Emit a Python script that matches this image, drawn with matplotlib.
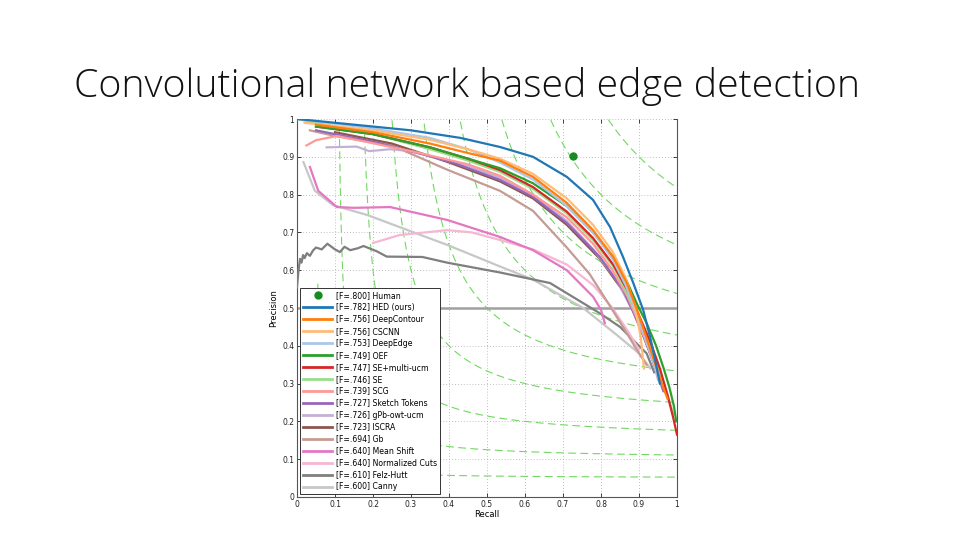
import matplotlib
matplotlib.use("Agg")
import matplotlib.pyplot as plt
import numpy as np

title = "Convolutional network based edge detection"

labels = ["[F=.800] Human", "[F=.782] HED (ours)", "[F=.756] DeepContour", "[F=.756] CSCNN",
          "[F=.753] DeepEdge", "[F=.749] OEF", "[F=.747] SE+multi-ucm", "[F=.746] SE",
          "[F=.739] SCG", "[F=.727] Sketch Tokens", "[F=.726] gPb-owt-ucm", "[F=.723] ISCRA",
          "[F=.694] Gb", "[F=.640] Mean Shift", "[F=.640] Normalized Cuts", "[F=.610] Felz-Hutt",
          "[F=.600] Canny"]

human_r = [0.726]
human_p = [0.902]

hed_r = [0, .1, .2, .3, .43, .534, .621, .71, .779, .824, .858, .885, .911, .93, .945, .955]
hed_p = [1, .99, .98, .97, .95, .926, .90, .847, .786, .714, .635, .566, .495, .42, .35, .30]
deepcontour_r = [.05, .2, .35, .45, .534, .621, .71, .779, .832, .868, .895, .92, .94, .96, .975]
deepcontour_p = [.985, .965, .935, .91, .89, .847, .778, .706, .635, .566, .495, .42, .36, .30, .26]
cscnn_r = [.02, .2, .35, .45, .534, .621, .71, .779, .83, .865, .89, .905, .913]
cscnn_p = [.99, .97, .945, .92, .895, .855, .79, .72, .65, .58, .50, .42, .34]
deepedge_r = [0, .2, .35, .45, .534, .621, .71, .779, .83, .865, .89, .92, .94, .955]
deepedge_p = [1, .975, .95, .92, .885, .84, .77, .70, .63, .56, .49, .41, .35, .30]
oef_r = [.05, .2, .35, .45, .534, .621, .71, .779, .832, .868, .895, .92, .945, .965, .98, .992, .998]
oef_p = [.98, .96, .925, .895, .87, .83, .77, .70, .635, .57, .51, .46, .40, .34, .29, .24, .20]
semucm_r = [.05, .2, .35, .45, .534, .621, .71, .779, .832, .868, .9, .93, .955, .975, .99, 1.0]
semucm_p = [.98, .96, .925, .895, .865, .82, .755, .685, .615, .55, .48, .41, .34, .27, .21, .165]
se_r = [0, .2, .35, .45, .534, .621, .71, .779, .832, .868, .9, .93, .955, .975, .99]
se_p = [1, .96, .92, .89, .86, .815, .75, .68, .61, .54, .47, .40, .33, .27, .22]
scg_r = [.025, .05, .105, .18, .3, .45, .534, .621, .71, .779, .83, .87, .9, .93, .96]
scg_p = [.93, .944, .955, .94, .915, .88, .85, .80, .74, .67, .60, .53, .46, .38, .30]
sketch_r = [.05, .2, .395, .534, .621, .71, .797, .858, .885, .91, .94, .964]
sketch_p = [.97, .94, .89, .839, .794, .725, .635, .548, .49, .43, .35, .28]
gpb_r = [.078, .157, .19, .245, .3, .45, .534, .621, .71, .78, .84, .885, .915, .94, .95]
gpb_p = [.925, .927, .915, .92, .915, .875, .845, .80, .73, .655, .575, .49, .42, .35, .31]
iscra_r = [.1, .25, .4, .534, .621, .71, .797, .858, .885, .91, .93, .95]
iscra_p = [.965, .935, .885, .835, .79, .72, .63, .545, .49, .43, .38, .34]
gb_r = [.034, .1, .25, .395, .534, .621, .71, .77, .83, .87, .9, .92]
gb_p = [.97, .955, .93, .866, .81, .757, .66, .59, .495, .43, .38, .35]
meanshift_r = [.034, .056, .105, .15, .245, .395, .534, .621, .71, .779, .80, .81]
meanshift_p = [.873, .81, .767, .765, .767, .733, .688, .653, .60, .53, .495, .46]
ncuts_r = [.2, .27, .395, .46, .534, .621, .71, .78, .83, .87, .9]
ncuts_p = [.672, .693, .706, .70, .68, .655, .615, .56, .50, .44, .39]
felz_r = [0, .004, .008, .012, .016, .02, .026, .034, .042, .05, .065, .08, .1, .113, .125, .14,
          .16, .175, .21, .236, .33, .395, .534, .666, .797, .85, .92, .94]
felz_p = [.555, .60, .63, .62, .64, .632, .645, .638, .652, .66, .655, .67, .655, .648, .662, .653,
          .658, .664, .65, .636, .635, .62, .594, .566, .486, .45, .38, .33]
canny_r = [.017, .047, .095, .185, .395, .534, .621, .753, .84, .9, .93]
canny_p = [.886, .81, .772, .746, .667, .61, .575, .50, .43, .38, .34]

iso_f = [.1, .2, .3, .4, .5, .6, .7, .8, .9]

series = [
    (hed_r, hed_p, "#1f77b4"),
    (deepcontour_r, deepcontour_p, "#ff7f0e"),
    (cscnn_r, cscnn_p, "#ffbb78"),
    (deepedge_r, deepedge_p, "#aec7e8"),
    (oef_r, oef_p, "#2ca02c"),
    (semucm_r, semucm_p, "#d62728"),
    (se_r, se_p, "#98df8a"),
    (scg_r, scg_p, "#ff9896"),
    (sketch_r, sketch_p, "#9467bd"),
    (gpb_r, gpb_p, "#c5b0d5"),
    (iscra_r, iscra_p, "#8c564b"),
    (gb_r, gb_p, "#c49c94"),
    (meanshift_r, meanshift_p, "#e377c2"),
    (ncuts_r, ncuts_p, "#f7b6d2"),
    (felz_r, felz_p, "#7f7f7f"),
    (canny_r, canny_p, "#c7c7c7"),
]

fig = plt.figure(figsize=(9.6, 5.4), dpi=100)
fig.patch.set_facecolor("white")

t = fig.text(74 / 960, 1 - 97 / 540, title, ha="left", va="baseline",
             fontsize=32, family=["Open Sans", "DejaVu Sans"], fontweight="light", color="#111111")
fig.canvas.draw()
w = t.get_window_extent().width
t.set_fontsize(32 * 788 / w)

ax = fig.add_axes([297 / 960, 1 - 497 / 540, 380 / 960, 378 / 540])

# iso-F curves
for f in iso_f:
    rr = np.linspace(f / 2 + 1e-4, 1, 400)
    pp = f * rr / (2 * rr - f)
    m = pp <= 1.0
    ax.plot(rr[m], pp[m], color="#70d860", lw=0.8, ls=(0, (7, 4)), zorder=1)

ax.axhline(0.5, color="#a0a0a0", lw=1.8, zorder=2)

handles = []
h = ax.plot(human_r, human_p, "o", color="#1a8a22", ms=5, zorder=6, label=labels[0])[0]
handles.append(h)
for (r, p, c) in series[::-1]:
    ax.plot(r, p, color=c, lw=1.6, zorder=3, solid_joinstyle="round")
for (r, p, c), lab in zip(series, labels[1:]):
    handles.append(plt.Line2D([], [], color=c, lw=2.0, label=lab))

ax.set_xlim(0, 1)
ax.set_ylim(0, 1)
ticks = np.round(np.arange(0, 1.01, 0.1), 1)
ticklabels = ["0", "0.1", "0.2", "0.3", "0.4", "0.5", "0.6", "0.7", "0.8", "0.9", "1"]
ax.set_xticks(ticks)
ax.set_yticks(ticks)
ax.set_xticklabels(ticklabels)
ax.set_yticklabels(ticklabels)
ax.tick_params(direction="in", labelsize=5.5, length=3, width=0.6, colors="#222222",
               top=True, right=True, pad=2)
ax.grid(True, ls=(0, (1, 2.5)), color="#aaaaaa", lw=0.6)
ax.set_axisbelow(True)
for s in ["left", "bottom", "right"]:
    ax.spines[s].set_color("#555555")
    ax.spines[s].set_linewidth(0.8)
ax.spines["top"].set_visible(False)
ax.set_xlabel("Recall", fontsize=6, labelpad=1)
ax.set_ylabel("Precision", fontsize=6, labelpad=3)

leg = ax.legend(handles=handles, loc="lower left", bbox_to_anchor=(0.008, 0.008),
                borderaxespad=0, fontsize=5.6, handlelength=3.8, handletextpad=0.5,
                labelspacing=0.38, borderpad=0.35, fancybox=False, framealpha=1,
                edgecolor="#333333", numpoints=1)
leg.get_frame().set_linewidth(0.7)

fig.savefig("out.png", dpi=100, facecolor="white")
